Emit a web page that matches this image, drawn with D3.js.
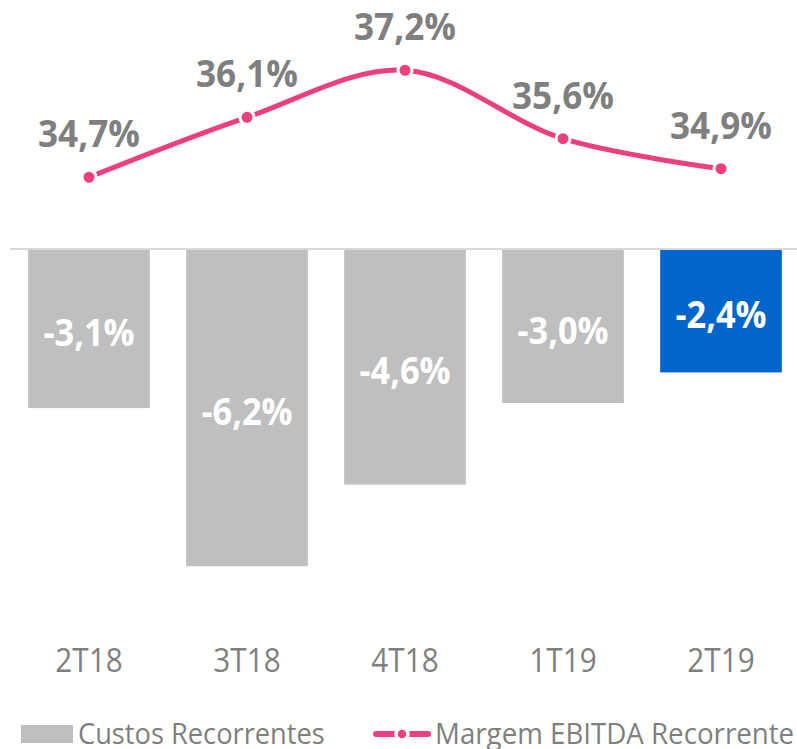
<!DOCTYPE html>
<html lang="pt">
<head>
<meta charset="UTF-8">
<title>Custos e Margem EBITDA</title>
<script src="https://d3js.org/d3.v7.min.js"></script>
<style>
  body { margin: 0; background: #fff; }
  svg text { font-family: "Open Sans", "Noto Sans", sans-serif; }
</style>
</head>
<body>
<div id="chart"></div>
<script>
// data
const periods = ["2T18", "3T18", "4T18", "1T19", "2T19"];
const custos = [-3.1, -6.2, -4.6, -3.0, -2.4];
const margem = [34.7, 36.1, 37.2, 35.6, 34.9];
const highlight = "2T19";

const width = 797, height = 749;
const grey = "#bfbfbf", blue = "#0066cc", pink = "#ec3f7f", textGrey = "#7f7f7f";

const svg = d3.select("#chart").append("svg")
    .attr("width", width)
    .attr("height", height);

// plain hyphen + comma decimal, like the original
const fmt = v => (v < 0 ? "-" : "") + Math.abs(v).toFixed(1).replace(".", ",") + "%";

// x
const x = d3.scaleBand()
    .domain(periods)
    .range([10, 800])
    .paddingInner(0.23)
    .paddingOuter(0.115);

// bars (negative values hang from zero)
const yBar = d3.scaleLinear().domain([-7, 0]).range([607, 250]);
// line on its own scale
const yLine = d3.scaleLinear().domain([33, 38]).range([250, 36]);

// text with slight horizontal squeeze to mimic the narrow font
function label(g, x, y, txt, size, weight, fill, sx, anchor) {
  g.append("text")
    .attr("transform", `translate(${x},${y}) scale(${sx},1)`)
    .attr("text-anchor", anchor || "middle")
    .style("font-size", size + "px")
    .style("font-weight", weight)
    .attr("fill", fill)
    .text(txt);
}

// bars
svg.append("g").selectAll("rect")
  .data(periods)
  .join("rect")
    .attr("x", d => x(d))
    .attr("y", yBar(0))
    .attr("width", x.bandwidth())
    .attr("height", (d, i) => yBar(custos[i]) - yBar(0))
    .attr("fill", d => d === highlight ? blue : grey);

// zero line
svg.append("line")
    .attr("x1", 10).attr("x2", width)
    .attr("y1", yBar(0) - 1).attr("y2", yBar(0) - 1)
    .attr("stroke", "#d9d9d9")
    .attr("stroke-width", 2);

// bar labels
const barLabels = svg.append("g");
periods.forEach((p, i) => {
  const mid = (yBar(0) + yBar(custos[i])) / 2;
  label(barLabels, x(p) + x.bandwidth() / 2, mid + 17, fmt(custos[i]), 37, 700, "#fff", 0.93);
});

// line
const cx = p => x(p) + x.bandwidth() / 2;
const line = d3.line()
    .x((d, i) => cx(periods[i]))
    .y(d => yLine(d))
    .curve(d3.curveCatmullRom.alpha(0.5));

svg.append("path")
    .datum(margem)
    .attr("d", line)
    .attr("fill", "none")
    .attr("stroke", pink)
    .attr("stroke-width", 5);

svg.append("g").selectAll("circle")
  .data(margem)
  .join("circle")
    .attr("cx", (d, i) => cx(periods[i]))
    .attr("cy", d => yLine(d))
    .attr("r", 7)
    .attr("fill", pink)
    .attr("stroke", "#fff")
    .attr("stroke-width", 3);

// line labels
const lineLabels = svg.append("g");
margem.forEach((v, i) => {
  label(lineLabels, cx(periods[i]), yLine(v) - 30, fmt(v), 37, 700, textGrey, 0.95);
});

// x axis labels
const axisG = svg.append("g");
periods.forEach(p => {
  label(axisG, cx(p), 672, p, 33, 400, textGrey, 0.9);
});

// legend
const leg = svg.append("g");
leg.append("rect")
    .attr("x", 21).attr("y", 725)
    .attr("width", 52).attr("height", 18)
    .attr("fill", grey);
label(leg, 78, 744, "Custos Recorrentes", 29, 400, textGrey, 0.94, "start");
leg.append("line")
    .attr("x1", 376).attr("x2", 428)
    .attr("y1", 734).attr("y2", 734)
    .attr("stroke", pink)
    .attr("stroke-width", 6)
    .attr("stroke-linecap", "round");
leg.append("circle")
    .attr("cx", 402).attr("cy", 734).attr("r", 6)
    .attr("fill", pink)
    .attr("stroke", "#fff")
    .attr("stroke-width", 3.5);
label(leg, 435, 744, "Margem EBITDA Recorrente", 29, 400, textGrey, 0.955, "start");
</script>
</body>
</html>
